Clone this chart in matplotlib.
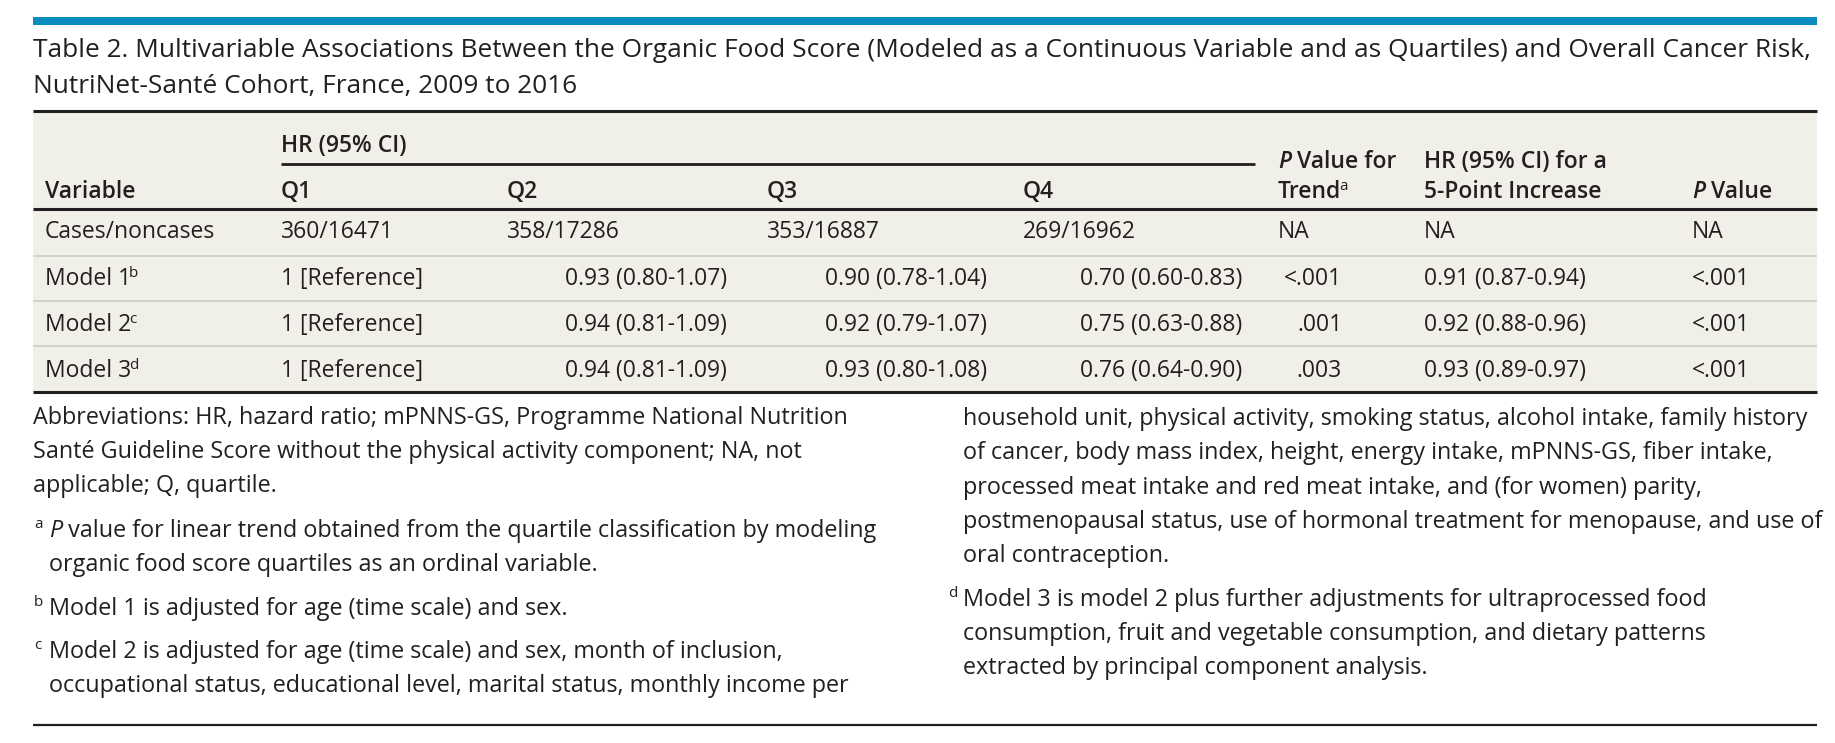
#!/usr/bin/env python3
"""Table 2 (organic food score vs overall cancer risk) redrawn as a matplotlib figure."""

import matplotlib

matplotlib.use("Agg")
import matplotlib.pyplot as plt  # noqa: E402

W, H, DPI = 1835, 743, 100

TITLE_LINES = [
    "Table 2. Multivariable Associations Between the Organic Food Score (Modeled as a "
    "Continuous Variable and as Quartiles) and Overall Cancer Risk,",
    "NutriNet-Santé Cohort, France, 2009 to 2016",
]
QUARTILES = ["Q1", "Q2", "Q3", "Q4"]
VARIABLES = ["Cases/noncases", "Model 1", "Model 2", "Model 3"]
VAR_NOTES = ["", "b", "c", "d"]
Q1 = ["360/16471", "1 [Reference]", "1 [Reference]", "1 [Reference]"]
Q2 = ["358/17286", "0.93 (0.80-1.07)", "0.94 (0.81-1.09)", "0.94 (0.81-1.09)"]
Q3 = ["353/16887", "0.90 (0.78-1.04)", "0.92 (0.79-1.07)", "0.93 (0.80-1.08)"]
Q4 = ["269/16962", "0.70 (0.60-0.83)", "0.75 (0.63-0.88)", "0.76 (0.64-0.90)"]
P_TREND = ["NA", "<.001", ".001", ".003"]
HR_5PT = ["NA", "0.91 (0.87-0.94)", "0.92 (0.88-0.96)", "0.93 (0.89-0.97)"]
P_VALUE = ["NA", "<.001", "<.001", "<.001"]

ABBREV = [
    "Abbreviations: HR, hazard ratio; mPNNS-GS, Programme National Nutrition",
    "Santé Guideline Score without the physical activity component; NA, not",
    "applicable; Q, quartile.",
]
NOTE_A = [
    " value for linear trend obtained from the quartile classification by modeling",
    "organic food score quartiles as an ordinal variable.",
]
NOTE_B = ["Model 1 is adjusted for age (time scale) and sex."]
NOTE_C = [
    "Model 2 is adjusted for age (time scale) and sex, month of inclusion,",
    "occupational status, educational level, marital status, monthly income per",
    "household unit, physical activity, smoking status, alcohol intake, family history",
    "of cancer, body mass index, height, energy intake, mPNNS-GS, fiber intake,",
    "processed meat intake and red meat intake, and (for women) parity,",
    "postmenopausal status, use of hormonal treatment for menopause, and use of",
    "oral contraception.",
]
NOTE_D = [
    "Model 3 is model 2 plus further adjustments for ultraprocessed food",
    "consumption, fruit and vegetable consumption, and dietary patterns",
    "extracted by principal component analysis.",
]

INK, BLUE, BG, GRID = "#231f20", "#0a8cbf", "#f0f0e9", "#c9c9c4"
FONT = ["Open Sans", "DejaVu Sans"]
BODY, SUP, FN = 16.5, 11, 16.8

plt.rcParams.update({"font.family": FONT, "axes.unicode_minus": False})

fig = plt.figure(figsize=(W / DPI, H / DPI), dpi=DPI, facecolor="white")
ax = fig.add_axes([0, 0, 1, 1])
ax.set_xlim(0, W)
ax.set_ylim(H, 0)
ax.axis("off")

LEFT, RIGHT = 33, 1817


def txt(x, y, s, **kw):
    kw.setdefault("fontsize", BODY)
    kw.setdefault("color", INK)
    kw.setdefault("va", "baseline")
    return ax.text(x, y, s, **kw)


def after(artist, y, s, **kw):
    # continue a run of text right after another artist, on the same baseline
    kw.setdefault("fontsize", BODY)
    return ax.annotate(s, xy=(1, y), xycoords=(artist, "data"), va="baseline",
                       ha="left", color=INK, **kw)


def sup(artist, s):
    ax.annotate(s, xy=(1, 1), xycoords=artist, xytext=(-1.5, 1), textcoords="offset points",
                va="top", ha="left", fontsize=SUP, color=INK)


def rule(y, x0=LEFT, x1=RIGHT, lw=2.2, color=INK):
    ax.plot([x0, x1], [y, y], color=color, lw=lw, solid_capstyle="butt")


# blue band + title
ax.fill_between([LEFT, RIGHT], 17, 25, color=BLUE, lw=0)
t1 = txt(LEFT, 57, TITLE_LINES[0], fontsize=18)
fig.canvas.draw()
fs = 18 * (1803 - LEFT) / t1.get_window_extent().width
t1.set_fontsize(fs)
txt(LEFT, 93, TITLE_LINES[1], fontsize=fs)

# table body
TOP, HEAD, BOT = 111, 209, 392
ax.fill_between([LEFT, RIGHT], TOP, BOT, color=BG, lw=0)
rule(TOP)
rule(HEAD)
rule(BOT)
for y in [256, 301, 346]:
    rule(y, lw=1.1, color=GRID)
rule(164, 281, 1255, lw=2.0)

HW = "semibold"
txt(281, 152, "HR (95% CI)", fontweight=HW)
txt(45, 198, "Variable", fontweight=HW)
q_x = [281, 507, 767, 1023]
for x, q in zip(q_x, QUARTILES):
    txt(x, 198, q, fontweight=HW)
p1 = txt(1278, 168, "P", fontweight=HW, style="italic")
after(p1, 168, " Value for", fontweight=HW)
tr = txt(1278, 198, "Trend", fontweight=HW)
sup(tr, "a")
txt(1424, 168, "HR (95% CI) for a", fontweight=HW)
txt(1424, 198, "5-Point Increase", fontweight=HW)
p2 = txt(1692, 198, "P", fontweight=HW, style="italic")
after(p2, 198, " Value", fontweight=HW)

row_y = [238, 285, 331, 377]
q_right = [None, 727, 987, 1242]
for i, y in enumerate(row_y):
    v = txt(45, y, VARIABLES[i])
    if VAR_NOTES[i]:
        sup(v, VAR_NOTES[i])
    txt(281, y, Q1[i])
    for x, xr, col in zip(q_x[1:], q_right[1:], [Q2, Q3, Q4]):
        if i == 0:
            txt(x, y, col[i])
        else:
            txt(xr, y, col[i], ha="right")
    if P_TREND[i] == "NA":
        txt(1278, y, P_TREND[i])
    else:
        txt(1342, y, P_TREND[i], ha="right")
    txt(1424, y, HR_5PT[i])
    txt(1692, y, P_VALUE[i])

# footnotes
for y, line in zip([424, 458, 492], ABBREV):
    txt(LEFT, y, line, fontsize=FN)

NX, MX = 49, 34
txt(MX, 528, "a", fontsize=SUP)
pa = txt(NX, 537, "P", fontsize=FN, style="italic")
after(pa, 537, NOTE_A[0], fontsize=FN)
txt(NX, 571, NOTE_A[1], fontsize=FN)
txt(MX, 606, "b", fontsize=SUP)
txt(NX, 615, NOTE_B[0], fontsize=FN)
txt(MX, 649, "c", fontsize=SUP)
for y, line in zip([658, 692], NOTE_C[:2]):
    txt(NX, y, line, fontsize=FN)

RX = 963
for y, line in zip([425, 459, 494, 528, 562], NOTE_C[2:]):
    txt(RX, y, line, fontsize=FN)
txt(948, 597, "d", fontsize=SUP)
for y, line in zip([606, 640, 674], NOTE_D):
    txt(RX, y, line, fontsize=FN)

rule(725, lw=1.6)

fig.savefig("out.png", dpi=DPI, facecolor="white")
